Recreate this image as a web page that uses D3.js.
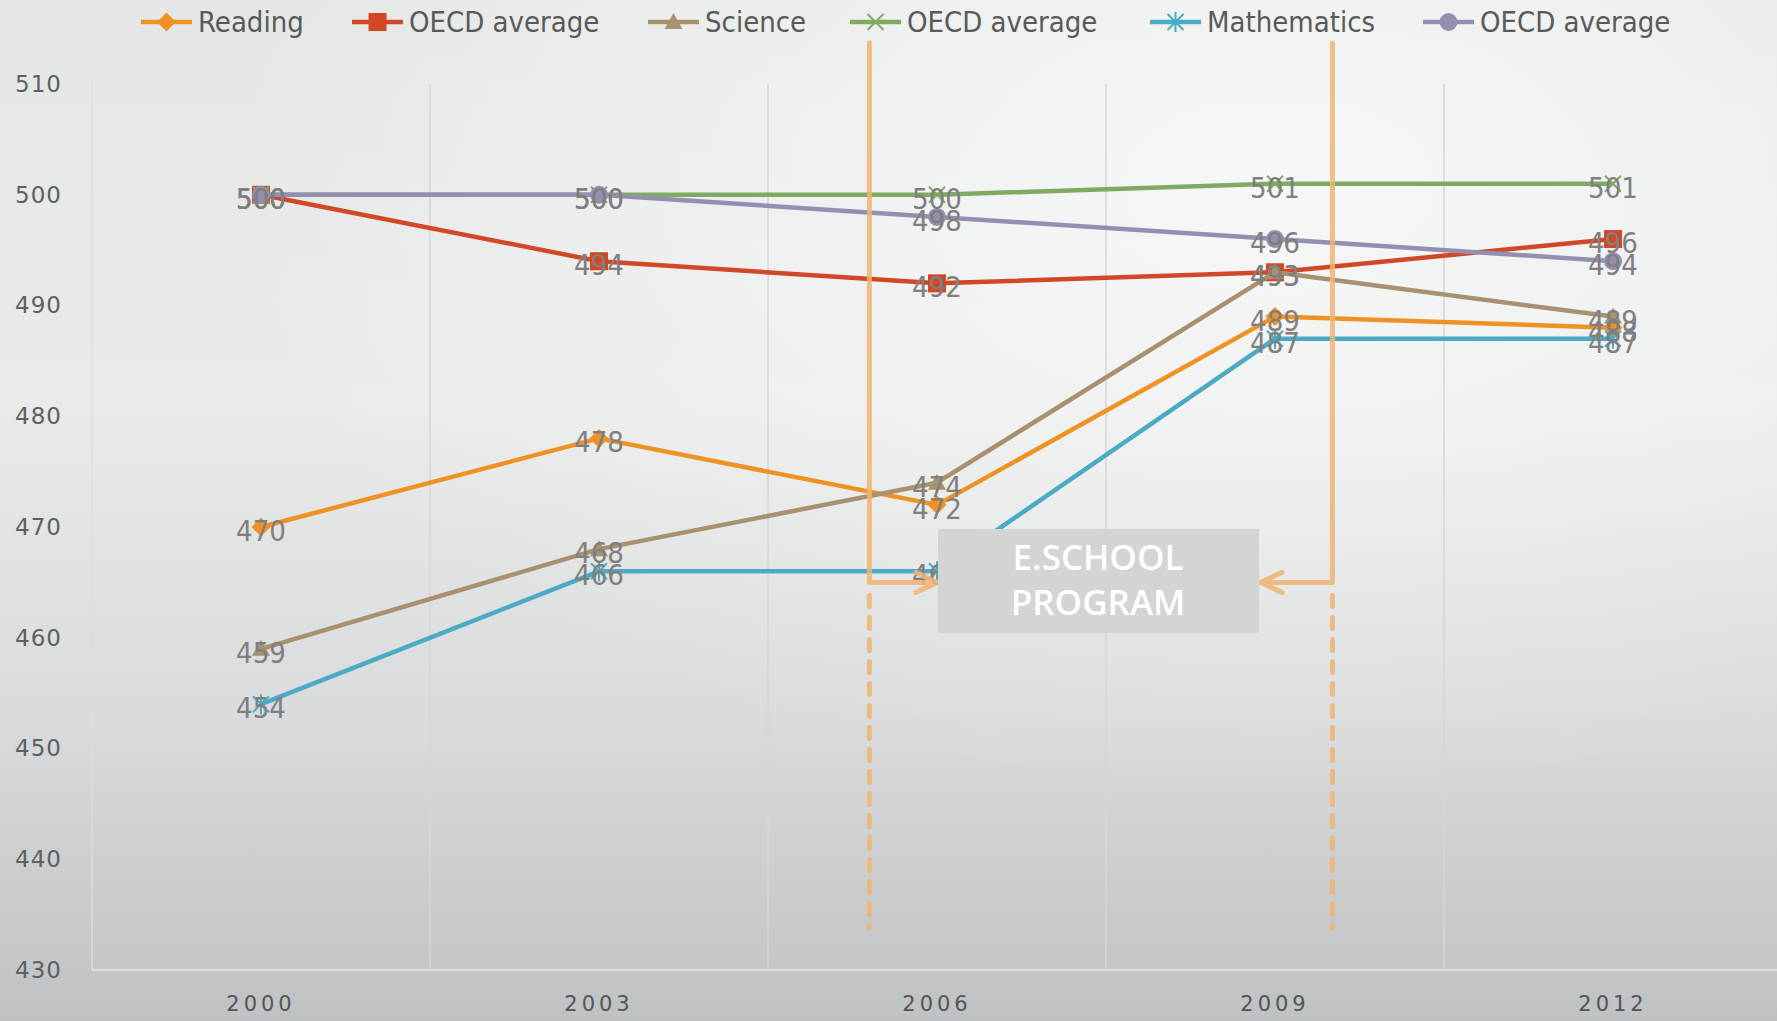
<!DOCTYPE html>
<html>
<head>
<meta charset="utf-8">
<script src="https://cdn.jsdelivr.net/npm/d3@7"></script>
<style>
  body { margin: 0; overflow: hidden; }
  svg { display: block; }
</style>
</head>
<body>
<div id="chart"></div>
<script>
var width = 1777, height = 1021;

// data
var years = ["2000", "2003", "2006", "2009", "2012"];
var reading = [470, 478, 472, 489, 488];
var oecdReading = [500, 494, 492, 493, 496];
var science = [459, 468, 474, 493, 489];
var oecdScience = [500, 500, 500, 501, 501];
var mathematics = [454, 466, 466, 487, 487];
var oecdMaths = [500, 500, 498, 496, 494];
var yTicks = [430, 440, 450, 460, 470, 480, 490, 500, 510];

var series = [
  {name: "Reading", values: reading, color: "#ef9224", marker: "diamond"},
  {name: "OECD average", values: oecdReading, color: "#d24726", marker: "square"},
  {name: "Science", values: science, color: "#a8916f", marker: "triangle"},
  {name: "OECD average", values: oecdScience, color: "#80aa62", marker: "x"},
  {name: "Mathematics", values: mathematics, color: "#4babc4", marker: "star"},
  {name: "OECD average", values: oecdMaths, color: "#938fb1", marker: "circle"}
];

var svg = d3.select("#chart").append("svg")
    .attr("width", width)
    .attr("height", height);

var defs = svg.append("defs");
var bg = defs.append("linearGradient").attr("id", "bg")
    .attr("x1", 0).attr("y1", 0).attr("x2", 0).attr("y2", 1);
bg.append("stop").attr("offset", "0%").attr("stop-color", "#e5e7e7");
bg.append("stop").attr("offset", "40%").attr("stop-color", "#e9eaea");
bg.append("stop").attr("offset", "70%").attr("stop-color", "#d9dbdc");
bg.append("stop").attr("offset", "100%").attr("stop-color", "#bfc2c3");
var glow = defs.append("radialGradient").attr("id", "glow")
    .attr("cx", "72%").attr("cy", "18%").attr("r", "60%");
glow.append("stop").attr("offset", "0%").attr("stop-color", "#ffffff").attr("stop-opacity", 0.65);
glow.append("stop").attr("offset", "100%").attr("stop-color", "#ffffff").attr("stop-opacity", 0);

svg.append("rect").attr("width", width).attr("height", height).attr("fill", "url(#bg)");
svg.append("rect").attr("width", width).attr("height", height).attr("fill", "url(#glow)");

var x = d3.scaleBand().domain(years).range([92, 1782]);
var cx = function(d) { return x(d) + x.bandwidth() / 2; };
var y = d3.scaleLinear().domain([430, 510]).range([970, 84]);

// vertical gridlines between categories
svg.append("g").selectAll("line")
  .data(years.slice(1))
  .enter().append("line")
    .attr("x1", function(d) { return x(d); })
    .attr("x2", function(d) { return x(d); })
    .attr("y1", y(510))
    .attr("y2", y(430))
    .attr("stroke", "#d6d6d6")
    .attr("stroke-width", 1.5);

// axis lines
svg.append("line")
    .attr("x1", x.range()[0]).attr("x2", x.range()[0])
    .attr("y1", y(510)).attr("y2", y(430))
    .attr("stroke", "#dcdcdc").attr("stroke-width", 1.5);
svg.append("line")
    .attr("x1", x.range()[0]).attr("x2", width)
    .attr("y1", y(430)).attr("y2", y(430))
    .attr("stroke", "#dcdcdc").attr("stroke-width", 2.5);

// y axis labels
var yAxis = svg.append("g")
    .attr("transform", "translate(62,0)")
    .call(d3.axisLeft(y).tickValues(yTicks).tickSize(0).tickPadding(0));
yAxis.select(".domain").remove();
yAxis.selectAll("text")
    .attr("fill", "#5f5f5f")
    .style("font-family", "'DejaVu Sans', sans-serif")
    .style("font-size", "23px")
    .style("letter-spacing", "1px");

// x axis labels
var xAxis = svg.append("g")
    .attr("transform", "translate(0,996)")
    .call(d3.axisBottom(x).tickSize(0).tickPadding(0));
xAxis.select(".domain").remove();
xAxis.selectAll("text")
    .attr("fill", "#555555")
    .style("font-family", "'DejaVu Sans', sans-serif")
    .style("font-size", "21px")
    .style("letter-spacing", "4px");

var line = d3.line()
    .x(function(d, i) { return cx(years[i]); })
    .y(function(d) { return y(d); });

function drawMarker(g, type, color) {
  if (type == "diamond") {
    g.append("path").attr("d", "M0,-9.5L9.5,0L0,9.5L-9.5,0Z").attr("fill", color);
  } else if (type == "square") {
    g.append("rect").attr("x", -9).attr("y", -9).attr("width", 18).attr("height", 18).attr("fill", color);
  } else if (type == "triangle") {
    g.append("path").attr("d", "M0,-9L9,7L-9,7Z").attr("fill", color);
  } else if (type == "circle") {
    g.append("circle").attr("r", 9).attr("fill", color);
  } else if (type == "x") {
    g.append("path").attr("d", "M-8,-8L8,8M-8,8L8,-8").attr("stroke", color).attr("stroke-width", 2);
  } else if (type == "star") {
    g.append("path").attr("d", "M-8,-8L8,8M-8,8L8,-8M0,-10L0,10").attr("stroke", color).attr("stroke-width", 2);
  }
}

series.forEach(function(s) {
  svg.append("path")
    .datum(s.values)
    .attr("d", line)
    .attr("fill", "none")
    .attr("stroke", s.color)
    .attr("stroke-width", 4.5)
    .attr("stroke-linejoin", "round");

  s.values.forEach(function(v, i) {
    var m = svg.append("g").attr("transform", "translate(" + cx(years[i]) + "," + y(v) + ")");
    drawMarker(m, s.marker, s.color);
  });
});

// data labels on top
series.forEach(function(s) {
  svg.append("g").selectAll("text")
    .data(s.values)
    .enter().append("text")
      .attr("x", function(d, i) { return cx(years[i]); })
      .attr("y", function(d) { return y(d) + 14; })
      .attr("text-anchor", "middle")
      .attr("fill", "#7f7f7f")
      .style("font-family", "'DejaVu Sans Condensed', 'DejaVu Sans', sans-serif")
      .style("font-stretch", "condensed")
      .style("font-size", "29px")
      .text(function(d) { return d; });
});

// E.SCHOOL annotation
var annColor = "#f0b473";
var leftX = x("2006") + x.bandwidth() * 0.3;
var rightX = x("2009") + x.bandwidth() * 0.67;
var elbowY = y(465);
var ann = svg.append("g").attr("opacity", 0.85)
    .attr("stroke", annColor).attr("stroke-width", 5).attr("fill", "none")
    .attr("stroke-linecap", "round").attr("stroke-linejoin", "round");
[[leftX, 1], [rightX, -1]].forEach(function(p) {
  var px = p[0], dir = p[1];
  var tip = dir > 0 ? 937 : 1261;
  ann.append("path").attr("d", "M" + px + ",43L" + px + "," + elbowY + "L" + tip + "," + elbowY);
  ann.append("path").attr("d", "M" + (tip - dir * 21) + "," + (elbowY - 10) + "L" + tip + "," + elbowY + "L" + (tip - dir * 21) + "," + (elbowY + 10));
  ann.append("line")
    .attr("x1", px).attr("x2", px)
    .attr("y1", elbowY + 13).attr("y2", y(433.8))
    .attr("stroke-dasharray", "11,11");
});

svg.append("rect")
    .attr("x", 938).attr("y", 529)
    .attr("width", 321).attr("height", 104)
    .attr("fill", "#d4d4d4");
svg.append("text")
    .attr("x", 1098).attr("y", 570)
    .attr("text-anchor", "middle")
    .attr("fill", "#ffffff")
    .style("font-family", "'Open Sans', sans-serif")
    .style("font-weight", 600)
    .style("font-size", "35px")
    .text("E.SCHOOL");
svg.append("text")
    .attr("x", 1098).attr("y", 615)
    .attr("text-anchor", "middle")
    .attr("fill", "#ffffff")
    .style("font-family", "'Open Sans', sans-serif")
    .style("font-weight", 600)
    .style("font-size", "35px")
    .text("PROGRAM");

// legend
var legendX = [141, 352, 648, 850, 1150, 1423];
series.forEach(function(s, i) {
  var g = svg.append("g").attr("transform", "translate(" + legendX[i] + ",22)");
  g.append("line").attr("x1", 0).attr("x2", 51).attr("stroke", s.color).attr("stroke-width", 4.5);
  var m = g.append("g").attr("transform", "translate(25.5,0)");
  drawMarker(m, s.marker, s.color);
  g.append("text")
    .attr("x", 57)
    .attr("y", 10)
    .attr("fill", "#595959")
    .style("font-family", "'DejaVu Sans Condensed', 'DejaVu Sans', sans-serif")
    .style("font-stretch", "condensed")
    .style("font-size", "29px")
    .text(s.name);
});
</script>
</body>
</html>
